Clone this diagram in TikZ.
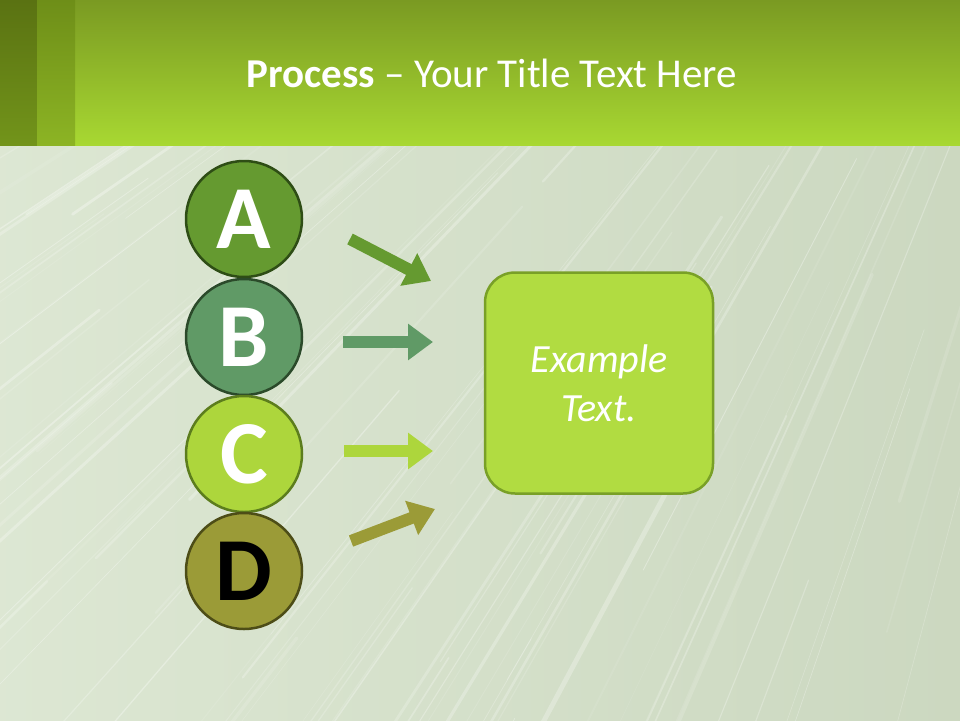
\documentclass[tikz,border=0pt]{standalone}
\usepackage{fontspec}
\setmainfont{Carlito}
\usetikzlibrary{arrows.meta,calc}
\definecolor{bgc}{HTML}{D4E1C8}
\definecolor{hdtop}{HTML}{7A9A22}
\definecolor{hdbot}{HTML}{A8D832}
\definecolor{sAtop}{HTML}{5A7212}
\definecolor{sAbot}{HTML}{72941A}
\definecolor{sBtop}{HTML}{6E8E18}
\definecolor{sBbot}{HTML}{8CB424}
\definecolor{cA}{HTML}{659A30}
\definecolor{cAb}{HTML}{2E4D15}
\definecolor{cB}{HTML}{609A66}
\definecolor{cBb}{HTML}{2B4A2A}
\definecolor{cC}{HTML}{ADD63C}
\definecolor{cCb}{HTML}{5C7D1D}
\definecolor{cD}{HTML}{9B9B37}
\definecolor{cDb}{HTML}{4D4D17}
\definecolor{boxf}{HTML}{B1DC41}
\definecolor{boxb}{HTML}{79A027}
\tikzset{
  circ/.style={circle, minimum size=116pt, inner sep=0pt, line width=2.5pt,
    font=\bfseries\fontsize{90}{90}\selectfont},
  blockarrow/.style={line width=12pt, -{Triangle[length=25pt,width=35pt]}},
  streak/.style={white, line cap=round}
}
\begin{document}
\begin{tikzpicture}[x=1pt,y=-1pt]
\useasboundingbox (0,0) rectangle (960,720);
% background
\shade[left color=bgc!80!white, right color=bgc!96!black] (0,145) rectangle (960,720);
\begin{scope}
\clip (0,145) rectangle (960,720);
\pgfmathsetseed{11}
\foreach \i in {1,...,150} {
  \pgfmathsetmacro\a{97+75*rnd}
  \pgfmathsetmacro\w{0.6+5*rnd*rnd}
  \pgfmathsetmacro\o{0.08+0.25*rnd}
  \pgfmathsetmacro\ra{500+1200*rnd}
  \pgfmathsetmacro\rb{\ra+400+900*rnd}
  \draw[streak, line width=\w pt, opacity=\o] ($(1250,-600)+(\a:\ra)$) -- ($(1250,-600)+(\a:\rb)$);
}
\end{scope}
% header
\shade[top color=hdtop, bottom color=hdbot] (0,0) rectangle (960,145);
\shade[top color=sAtop, bottom color=sAbot] (0,0) rectangle (37,145);
\shade[top color=sBtop, bottom color=sBbot] (37,0) rectangle (75,145);
\node[anchor=base, text=white, font=\fontsize{41}{41}\selectfont] (title) at (492,87)
  {\textbf{Process} – Your Title Text Here};
% circles
\node[circ, fill=cA, draw=cAb, text=white] (A) at (244,219) {A};
\node[circ, fill=cB, draw=cBb, text=white] (B) at (244,337) {B};
\node[circ, fill=cC, draw=cCb, text=white] (C) at (244,454) {C};
\node[circ, fill=cD, draw=cDb, text=black] (D) at (244,571) {D};
% box
\node[draw=boxb, fill=boxf, line width=2.5pt, rounded corners=30pt,
  minimum width=228pt, minimum height=221pt, align=center, text=white,
  font=\itshape\fontsize{40}{49}\selectfont] (box) at (599,383) {Example\\Text.};
% arrows
\coordinate (a1) at (350,239);
\coordinate (a2) at (431,281);
\coordinate (b1) at (343,342);
\coordinate (b2) at (433,342);
\coordinate (c1) at (344,451);
\coordinate (c2) at (433,451);
\coordinate (d1) at (351,541);
\coordinate (d2) at (435,509);
\draw[blockarrow, cA] (a1) -- (a2);
\draw[blockarrow, cB] (b1) -- (b2);
\draw[blockarrow, cC] (c1) -- (c2);
\draw[blockarrow, cD] (d1) -- (d2);
\end{tikzpicture}
\end{document}
